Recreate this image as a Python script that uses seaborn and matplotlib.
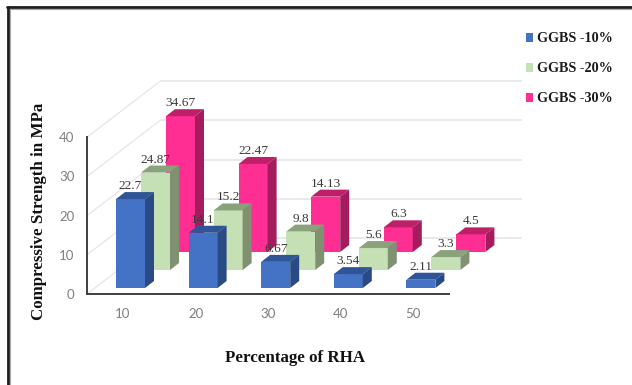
import matplotlib
matplotlib.use("Agg")
import matplotlib.pyplot as plt
from matplotlib.lines import Line2D
from matplotlib.patches import Patch, Polygon
import pandas as pd
import seaborn as sns

rha_levels = [10, 20, 30, 40, 50]
ggbs_10 = [22.7, 14.1, 6.67, 3.54, 2.11]
ggbs_20 = [24.87, 15.2, 9.8, 5.6, 3.3]
ggbs_30 = [34.67, 22.47, 14.13, 6.3, 4.5]
series_names = ["GGBS -10%", "GGBS -20%", "GGBS -30%"]
y_ticks = [0, 10, 20, 30, 40]

FRONT = ["#4472C4", "#C5E0B4", "#FF2E93"]
TOP = ["#2F5597", "#8AA27C", "#BF1F69"]
SIDE = ["#2A4A85", "#7F9170", "#A41C5E"]
SERIF = "Liberation Serif"
SANS = "Lato"
W, H = 632, 385

sns.set_theme(style="white")
fig = plt.figure(figsize=(W / 100, H / 100), dpi=100, facecolor="white")

# Axes box in pixels: the front plane of the oblique 3D view
left, right, top, bottom = 87, 449, 137.3, 294
ax = fig.add_axes([left / W, 1 - bottom / H, (right - left) / W, (bottom - top) / H])
px_x = 72.6 / 10
px_y = (bottom - top) / 40
ax.set_xlim(10 - (123 - left) / px_x, 10 + (right - 123) / px_x)
ax.set_ylim(0, 40)
ax.patch.set_alpha(0)

# Oblique offsets, converted to data units
slot_dx, slot_dy = 25 / px_x, 18 / px_y
start_dx, start_dy = 7.5 / px_x, 6 / px_y
wall_dx, wall_dy = 73 / px_x, 56 / px_y
cap_dx, cap_dy = 9 / px_x, 7 / px_y
bar_w = 29 / px_x
x0, x1 = ax.get_xlim()

# Back wall gridlines and their diagonals along the side wall
for v in y_ticks:
    ax.plot([x0 + wall_dx, x1 + wall_dx], [v + wall_dy] * 2, color="#E6E6E6",
            lw=1.2, clip_on=False, zorder=0.5, solid_capstyle="butt")
    ax.plot([x0, x0 + wall_dx], [v, v + wall_dy], color="#E6E6E6",
            lw=0.9, clip_on=False, zorder=0.5)

# Rear series first so that nearer bars overlap it
labels = []
all_series = [ggbs_10, ggbs_20, ggbs_30]
for idx in (2, 1, 0):
    values = all_series[idx]
    dx = start_dx + idx * slot_dx
    base = start_dy + idx * slot_dy
    frame = pd.DataFrame({"x": [r + dx for r in rha_levels], "y": values})
    sns.barplot(data=frame, x="x", y="y", native_scale=True, width=bar_w / 10,
                color=FRONT[idx], saturation=1, bottom=base, ax=ax,
                clip_on=False, zorder=2 + (2 - idx), linewidth=0,
                errorbar=None)
    for r, v in zip(rha_levels, values):
        xl = r + dx - bar_w / 2
        xr = r + dx + bar_w / 2
        yt = base + v
        ax.add_patch(Polygon([(xl, yt), (xr, yt), (xr + cap_dx, yt + cap_dy), (xl + cap_dx, yt + cap_dy)],
                             closed=True, fc=TOP[idx], ec="none", clip_on=False, zorder=2 + (2 - idx)))
        ax.add_patch(Polygon([(xr, base), (xr, yt), (xr + cap_dx, yt + cap_dy), (xr + cap_dx, base + cap_dy)],
                             closed=True, fc=SIDE[idx], ec="none", clip_on=False, zorder=2 + (2 - idx)))
        labels.append((r + dx, yt + 13 / px_y, f"{v:g}"))

for x, y, s in labels:
    ax.text(x, y, s, ha="center", va="center", family=SERIF, fontsize=9.6,
            color="#3A3A3A", zorder=10, clip_on=False)

# Axes furniture
sns.despine(ax=ax)
for side in ("left", "bottom"):
    ax.spines[side].set_color("#3F3F3F")
    ax.spines[side].set_linewidth(1.4)
ax.set_xticks(rha_levels)
ax.set_yticks(y_ticks)
ax.tick_params(axis="both", length=0, labelsize=9.5, labelcolor="#7F7F7F")
ax.tick_params(axis="y", pad=9)
ax.tick_params(axis="x", pad=10)
for lab in ax.get_xticklabels() + ax.get_yticklabels():
    lab.set_family(SANS)

to_ax = fig.transFigure
ax.set_xlabel("Percentage of RHA", family=SERIF, fontweight="bold", fontsize=12.2, color="#111111")
ax.set_ylabel("Compressive Strength in MPa", family=SERIF, fontweight="bold", fontsize=12.2, color="#111111")
ax.xaxis.set_label_coords(295 / W, 1 - 358 / H, transform=to_ax)
ax.xaxis.label.set_verticalalignment("center")
ax.yaxis.set_label_coords(39 / W, 1 - 211 / H, transform=to_ax)
ax.yaxis.label.set_verticalalignment("center")

# Legend in the upper right corner
handles = [Patch(facecolor=c, edgecolor="none", label=n) for c, n in zip(FRONT, series_names)]
fig.legend(handles=handles, loc="upper left", bbox_to_anchor=(526 / W, 1 - 32.5 / H),
           frameon=False, prop={"family": SERIF, "weight": "bold", "size": 10.2},
           labelspacing=1.2, handlelength=0.52, handleheight=0.52, handletextpad=0.25,
           borderpad=0, borderaxespad=0, labelcolor="#1A1A1A")

# Dark frame along the top and left edges
fig.add_artist(Line2D([8 / W, 8 / W], [0, 1 - 7 / H], transform=to_ax, color="#1E1E1E", lw=2.0))
fig.add_artist(Line2D([7 / W, 1], [1 - 7 / H, 1 - 7 / H], transform=to_ax, color="#1E1E1E", lw=2.0))
fig.add_artist(Line2D([10 / W, 10 / W], [0, 1 - 9 / H], transform=to_ax, color="#A8A8A8", lw=0.8))
fig.add_artist(Line2D([10 / W, 1], [1 - 9 / H, 1 - 9 / H], transform=to_ax, color="#A8A8A8", lw=0.8))

fig.savefig("out.png", dpi=100, facecolor="white")
